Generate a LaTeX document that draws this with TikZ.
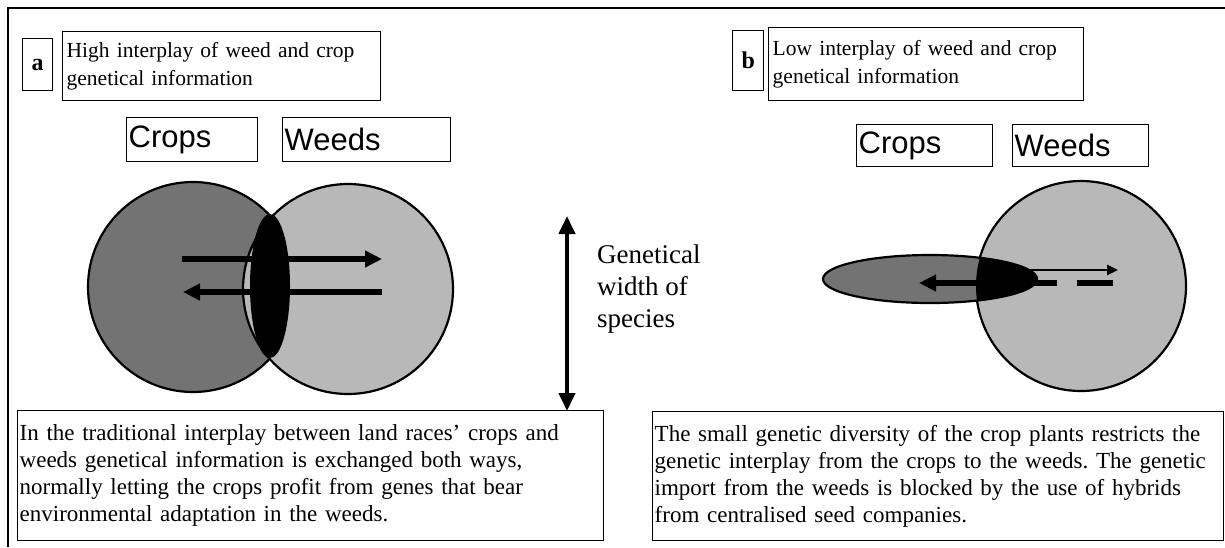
\documentclass[tikz,border=0pt]{standalone}
\usepackage{fontspec}
\setmainfont{Liberation Serif}
\newfontfamily\arialfont{Liberation Sans}
\usetikzlibrary{arrows.meta,shapes.geometric}
\frenchspacing

\begin{document}
\begin{tikzpicture}[x=1pt, y=-1pt,
    boxline/.style={draw, line width=1.4pt, anchor=north west, inner sep=0pt},
    tag/.style={boxline, font=\fontsize{24}{28}\selectfont\bfseries},
    heading/.style={boxline, align=left, inner xsep=4pt,
                    font=\fontsize{21.5}{28}\selectfont},
    caption/.style={boxline, align=left, inner xsep=2pt,
                    font=\fontsize{23}{27}\selectfont},
    group/.style={boxline, align=left, inner xsep=2pt, minimum height=44pt,
                  font=\arialfont\fontsize{31}{31}\selectfont},
    pool/.style={circle, draw, line width=2.2pt, inner sep=0pt,
                 minimum size=210pt},
    flow/.style={line width=6pt, -{Triangle[length=17pt,width=16pt]}},
    thinflow/.style={line width=2.5pt, -{Triangle[length=11pt,width=10pt]}}]
  \useasboundingbox (0,0) rectangle (1225,547);
  \draw[line width=1.6pt] (1225,8) -- (8,8) -- (8,547);

  % panel a
  \node[tag, minimum width=30pt, minimum height=52pt] (tagA) at (22,38) {a};
  \node[heading, text width=310pt, minimum height=69pt] (headA) at (62,31)
    {\mbox{High interplay of weed and crop}\\genetical information};
  \node[group, text width=127pt] (cropsLblA) at (126,117) {Crops};
  \node[group, text width=164pt] (weedsLblA) at (282,117) {Weeds};

  \node[pool, fill=black!55] (cropsA) at (193,287) {};
  \node[pool, fill=black!28] (weedsA) at (348,289) {};
  \node[ellipse, fill=black, inner sep=0pt, minimum width=40pt,
        minimum height=144pt] (mixA) at (270,286) {};

  \coordinate (toWeedsS) at (182,259);
  \coordinate (toWeedsE) at (382,259);
  \coordinate (toCropsS) at (382,292);
  \coordinate (toCropsE) at (183,292);
  \draw[flow] (toWeedsS) -- (toWeedsE);
  \draw[flow] (toCropsS) -- (toCropsE);

  \coordinate (widthTop) at (567,216);
  \coordinate (widthBot) at (567,411);
  \draw[line width=4pt, {Triangle[length=18pt,width=16pt]}-{Triangle[length=18pt,width=16pt]}]
    (widthTop) -- (widthBot);
  \node[anchor=west, align=left, inner sep=0pt,
        font=\fontsize{27}{32}\selectfont] (widthLbl) at (597,289)
    {Genetical\\width of\\species};

  \node[caption, text width=582pt, minimum height=130pt] (textA) at (17,410)
    {\mbox{In the traditional interplay between land races' crops and}\\
     \mbox{weeds genetical information is exchanged both ways,}\\
     \mbox{normally letting the crops profit from genes that bear}\\
     \mbox{environmental adaptation in the weeds.}};

  % panel b
  \node[tag, minimum width=31pt, minimum height=60pt] (tagB) at (732,30) {b};
  \node[heading, text width=307pt, minimum height=73pt] (headB) at (768,27)
    {\mbox{Low interplay of weed and crop}\\genetical information};
  \node[group, text width=132pt, minimum height=42pt] (cropsLblB) at (856,124) {Crops};
  \node[group, text width=132pt, minimum height=42pt] (weedsLblB) at (1012,124) {Weeds};

  \node[pool, fill=black!28] (weedsB) at (1081,286) {};
  \node[ellipse, draw, line width=2.2pt, fill=black!55, inner sep=0pt,
        minimum width=214pt, minimum height=48pt] (cropsB) at (930,279) {};
  \begin{scope}
    \clip (cropsB.center) ellipse[x radius=107pt, y radius=24pt];
    \fill (weedsB.center) circle[radius=105pt];
  \end{scope}

  \coordinate (toWeedsBS) at (1000,270);
  \coordinate (toWeedsBE) at (1118,270);
  \coordinate (toCropsBS) at (1057,283);
  \coordinate (toCropsBE) at (919,283);
  \coordinate (blockS) at (1113,283);
  \coordinate (blockE) at (1077,283);
  \draw[thinflow] (toWeedsBS) -- (toWeedsBE);
  \draw[flow] (toCropsBS) -- (toCropsBE);
  \draw[line width=6.5pt] (blockS) -- (blockE);

  \node[caption, text width=567pt, minimum height=129pt] (textB) at (652,411)
    {\mbox{The small genetic diversity of the crop plants restricts the}\\
     \mbox{genetic interplay from the crops to the weeds. The genetic}\\
     \mbox{import from the weeds is blocked by the use of hybrids}\\
     \mbox{from centralised seed companies.}};
\end{tikzpicture}
\end{document}
